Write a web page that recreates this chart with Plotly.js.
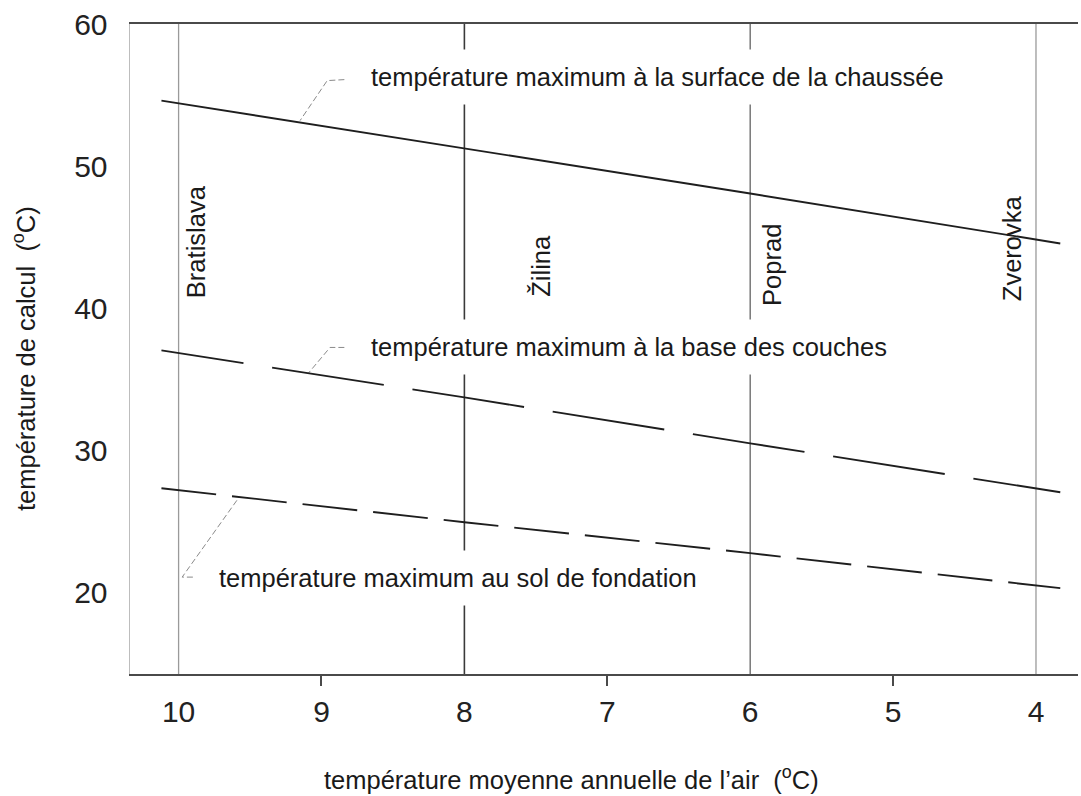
<!DOCTYPE html>
<html>
<head>
<meta charset="utf-8">
<script src="https://cdn.plot.ly/plotly-3.0.1.min.js"></script>
<style>
html,body{margin:0;padding:0;background:#fff;}
#chart{width:1081px;height:796px;}
</style>
</head>
<body>
<div id="chart"></div>
<script>
// ---- data ----
const xTicks = [10, 9, 8, 7, 6, 5, 4];
const xTickText = ['10', '9', '8', '7', '6', '5', '4'];
const xMinorTicks = [9, 7, 5];
const yTicks = [20, 30, 40, 50, 60];
const yTickText = ['20', '30', '40', '50', '60'];

const lineX = [10.12, 8, 6, 3.83];
const surfaceY = [54.65, 51.27, 48.1, 44.58];
const baseY = [37.04, 33.73, 30.49, 27.04];
const solY = [27.32, 24.93, 22.75, 20.28];

const cityNames = ['Bratislava', 'Žilina', 'Poprad', 'Zverovka'];
const cityLineX = [10, 8, 6, 4];
const cityLabelX = [9.877, 7.469, 5.844, 4.163];
const cityLabelY = [40.56, 40.7, 40.07, 40.35];

const labelTexts = [
  'température maximum à la surface de la chaussée',
  'température maximum à la base des couches',
  'température maximum au sol de fondation'
];
const labelX = [8.659, 8.659, 9.723];
const labelY = [56.34, 37.25, 20.99];

const leader1X = [8.84, 8.96, 9.15];
const leader1Y = [56.13, 56.06, 53.24];
const leader2X = [8.84, 8.94, 9.093];
const leader2Y = [37.25, 37.25, 35.42];
const leader3X = [9.90, 9.975, 9.576];
const leader3Y = [21.06, 21.06, 26.7];

const xTitle = 'température moyenne annuelle de l\u2019air&nbsp;&nbsp;(<sup>o</sup>C)';
const yTitle = 'température de calcul&nbsp;&nbsp;(<sup>o</sup>C)';

const xRange = [10.34, 3.706];
const yRange = [14.23, 60.05];

// ---- styles ----
const FONT = 'Liberation Sans, Arial, sans-serif';
const TXT = 25.5;
const cityLineStyle = [
  {color: '#9a9a9a', width: 1.3},
  {color: '#3a3a3a', width: 1.6},
  {color: '#6e6e6e', width: 1.4},
  {color: '#9a9a9a', width: 1.3}
];
const baseDash = '83px,29px,113px,29px,113px,29px,113px,29px,113px,29px,113px,29px,113px,29px,113px,29px,300px';

const traces = [];
cityLineX.forEach((v, i) => {
  traces.push({
    x: [v, v], y: yRange, mode: 'lines', type: 'scatter',
    line: cityLineStyle[i], hoverinfo: 'skip', showlegend: false
  });
});
[[leader1X, leader1Y], [leader2X, leader2Y], [leader3X, leader3Y]].forEach(p => {
  traces.push({
    x: p[0], y: p[1], mode: 'lines', type: 'scatter',
    line: {color: '#8a8a8a', width: 1, dash: '6px,3px'},
    hoverinfo: 'skip', showlegend: false
  });
});
traces.push({x: lineX, y: surfaceY, mode: 'lines', type: 'scatter',
  line: {color: '#1e1e1e', width: 1.9}, showlegend: false});
traces.push({x: lineX, y: baseY, mode: 'lines', type: 'scatter',
  line: {color: '#1e1e1e', width: 1.9, dash: baseDash}, showlegend: false});
traces.push({x: lineX, y: solY, mode: 'lines', type: 'scatter',
  line: {color: '#1e1e1e', width: 1.9, dash: '55px,16px'}, showlegend: false});
// invisible trace to activate the secondary x axis (odd ticks)
traces.push({x: [xMinorTicks[0]], y: [yRange[0]], xaxis: 'x2', mode: 'markers',
  marker: {opacity: 0}, hoverinfo: 'skip', showlegend: false});

const PAD = 13;
const annotations = [];
labelTexts.forEach((t, i) => {
  annotations.push({
    x: labelX[i], y: labelY[i], xref: 'x', yref: 'y', text: t,
    showarrow: false, xanchor: 'left', yanchor: 'middle', xshift: -PAD,
    bgcolor: '#ffffff', borderpad: PAD,
    font: {family: FONT, size: TXT, color: '#1a1a1a'}
  });
});
cityNames.forEach((n, i) => {
  annotations.push({
    x: cityLabelX[i], y: cityLabelY[i], xref: 'x', yref: 'y', text: n,
    showarrow: false, textangle: -90, xanchor: 'center', yanchor: 'bottom',
    font: {family: FONT, size: TXT, color: '#1a1a1a'}
  });
});
annotations.push({
  x: 571, y: 796 - 778, xref: 'paper', yref: 'paper', text: xTitle, showarrow: false,
  font: {family: FONT, size: TXT, color: '#1a1a1a'}, xanchor: 'center', yanchor: 'middle'
});
annotations.push({
  x: 24, y: 796 - 359, xref: 'paper', yref: 'paper', text: yTitle, showarrow: false,
  textangle: -90, font: {family: FONT, size: TXT, color: '#1a1a1a'}, xanchor: 'center', yanchor: 'middle'
});
// convert pixel placements of titles into paper fractions
const L = 130, R = 3, T = 24, B = 122, W = 1081, H = 796;
annotations.slice(-2).forEach(a => {
  a.x = (a.x - L) / (W - L - R);
  a.y = (a.y - B) / (H - T - B);
});

const layout = {
  width: W, height: H,
  margin: {l: L, r: R, t: T, b: B, pad: 0},
  paper_bgcolor: '#ffffff', plot_bgcolor: '#ffffff',
  showlegend: false,
  xaxis: {
    range: xRange, tickvals: xTicks, ticktext: xTickText, ticks: '',
    showline: true, linecolor: '#4a4a4a', linewidth: 2, mirror: true,
    showgrid: false, zeroline: false, ticklabelstandoff: 10,
    tickfont: {family: FONT, size: 30, color: '#222222'}
  },
  xaxis2: {
    range: xRange, overlaying: 'x', anchor: 'y', side: 'bottom',
    tickvals: xMinorTicks, ticks: 'outside', ticklen: 11, tickwidth: 2, tickcolor: '#4a4a4a',
    showticklabels: false, showline: false, showgrid: false, zeroline: false
  },
  yaxis: {
    range: yRange, tickvals: yTicks, ticktext: yTickText, ticks: '',
    showline: true, linecolor: '#bdbdbd', linewidth: 1.5, mirror: false,
    showgrid: false, zeroline: false, ticklabelstandoff: 15,
    tickfont: {family: FONT, size: 30, color: '#222222'}
  },
  annotations: annotations
};

Plotly.newPlot('chart', traces, layout, {staticPlot: true, displayModeBar: false});
</script>
</body>
</html>
